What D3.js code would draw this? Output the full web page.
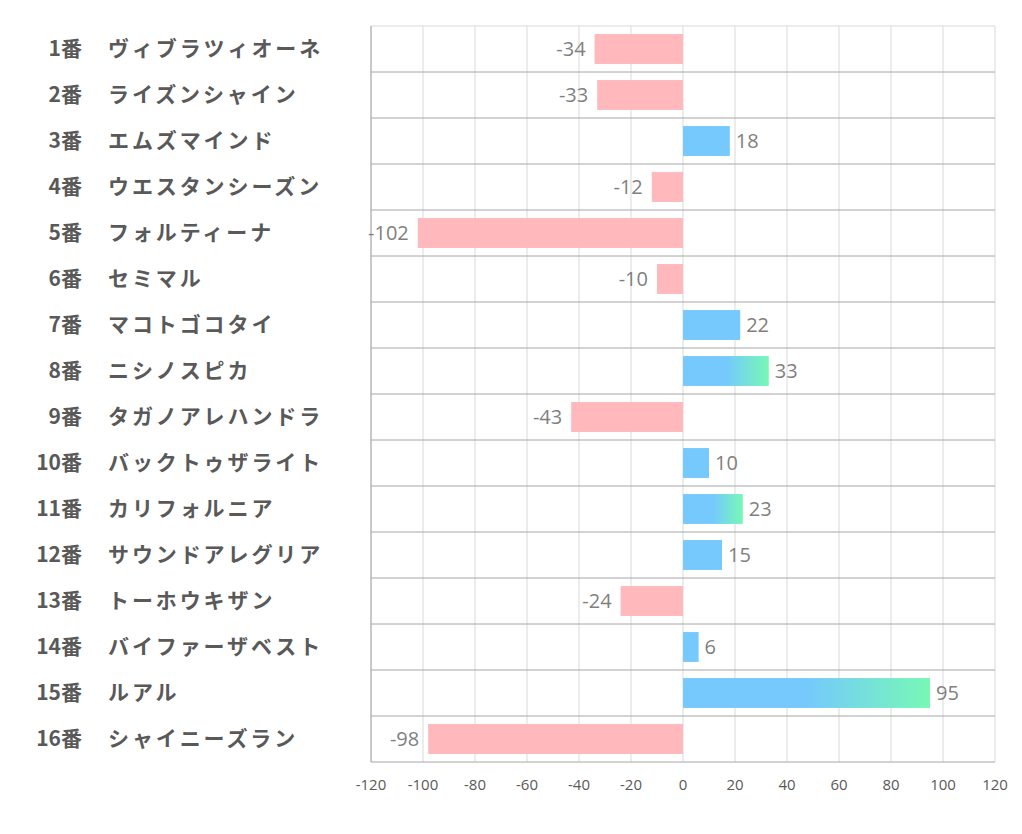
<!DOCTYPE html>
<html>
<head>
<meta charset="utf-8">
<script src="https://cdn.jsdelivr.net/npm/d3@7"></script>
<style>
  body { margin: 0; background: #fff; }
  svg { display: block; }
</style>
</head>
<body>
<svg id="chart" width="1022" height="834"></svg>
<script>
const numbers = ['1番', '2番', '3番', '4番', '5番', '6番', '7番', '8番',
  '9番', '10番', '11番', '12番', '13番', '14番', '15番', '16番'];
const horses = ['ヴィブラツィオーネ', 'ライズンシャイン', 'エムズマインド', 'ウエスタンシーズン',
  'フォルティーナ', 'セミマル', 'マコトゴコタイ', 'ニシノスピカ', 'タガノアレハンドラ',
  'バックトゥザライト', 'カリフォルニア', 'サウンドアレグリア', 'トーホウキザン',
  'バイファーザベスト', 'ルアル', 'シャイニーズラン'];
const scores = [-34, -33, 18, -12, -102, -10, 22, 33, -43, 10, 23, 15, -24, 6, 95, -98];
// bars drawn with the blue-green gradient
const highlighted = ['8番', '11番', '15番'];
const xTicks = [-120, -100, -80, -60, -40, -20, 0, 20, 40, 60, 80, 100, 120];

const svg = d3.select('#chart');
const plotLeft = 371, plotRight = 995, plotTop = 26, plotBottom = 762;

const x = d3.scaleLinear().domain([-120, 120]).range([plotLeft, plotRight]);
const y = d3.scaleBand().domain(numbers).range([plotTop, plotBottom]).paddingInner(0.35).paddingOuter(0.175);
const rowH = (plotBottom - plotTop) / numbers.length;

const defs = svg.append('defs');
const grad = defs.append('linearGradient').attr('id', 'posGrad')
  .attr('x1', '0%').attr('x2', '100%').attr('y1', '0%').attr('y2', '0%');
grad.append('stop').attr('offset', '50%').attr('stop-color', '#75c9fd');
grad.append('stop').attr('offset', '100%').attr('stop-color', '#77f8b5');

// vertical gridlines
svg.append('g').selectAll('line').data(xTicks).enter().append('line')
  .attr('x1', (d) => x(d)).attr('x2', (d) => x(d))
  .attr('y1', plotTop).attr('y2', plotBottom)
  .attr('stroke', '#d9d9d9').attr('stroke-width', 1);

// horizontal row lines
svg.append('g').selectAll('line').data(d3.range(numbers.length + 1)).enter().append('line')
  .attr('x1', plotLeft).attr('x2', plotRight)
  .attr('y1', (i) => plotTop + i * rowH).attr('y2', (i) => plotTop + i * rowH)
  .attr('stroke', (i) => (i === 0 ? '#d9d9d9' : '#a6a6a6')).attr('stroke-width', 1);

svg.append('line').attr('x1', plotLeft).attr('x2', plotLeft).attr('y1', plotTop).attr('y2', plotBottom)
  .attr('stroke', '#a6a6a6');

// bars
svg.append('g').selectAll('rect').data(scores).enter().append('rect')
  .attr('x', (d) => x(Math.min(0, d)))
  .attr('width', (d) => Math.abs(x(d) - x(0)))
  .attr('y', (d, i) => y(numbers[i]))
  .attr('height', y.bandwidth())
  .attr('fill', (d, i) => {
    if (d < 0) return '#ffb9bc';
    return highlighted.includes(numbers[i]) ? 'url(#posGrad)' : '#75c9fd';
  });

// value labels
svg.append('g').selectAll('text').data(scores).enter().append('text')
  .attr('x', (d) => (d < 0 ? x(d) - 9 : x(d) + 6))
  .attr('y', (d, i) => y(numbers[i]) + y.bandwidth() / 2)
  .attr('dy', '0.36em')
  .attr('text-anchor', (d) => (d < 0 ? 'end' : 'start'))
  .attr('font-family', '"Open Sans", "Noto Sans", sans-serif')
  .attr('font-size', 20)
  .attr('fill', '#7f7f7f')
  .text((d) => d);

// category labels
const lab = svg.append('g').attr('font-family', '"Noto Sans CJK JP", sans-serif')
  .attr('font-weight', 'bold').attr('font-size', 21).attr('fill', '#595959');
lab.selectAll('text.num').data(numbers).enter().append('text')
  .attr('class', 'num')
  .attr('x', 82).attr('y', (d) => y(d) + y.bandwidth() / 2).attr('dy', '0.35em')
  .attr('text-anchor', 'end').text((d) => d);
lab.selectAll('text.name').data(horses).enter().append('text')
  .attr('class', 'name')
  .attr('x', 108).attr('y', (d, i) => y(numbers[i]) + y.bandwidth() / 2).attr('dy', '0.35em')
  .attr('letter-spacing', 2.9)
  .text((d) => d);

// x axis tick labels
svg.append('g').selectAll('text').data(xTicks).enter().append('text')
  .attr('x', (d) => x(d)).attr('y', 790)
  .attr('text-anchor', 'middle')
  .attr('font-family', '"Open Sans", "Noto Sans", sans-serif')
  .attr('font-size', 15).attr('fill', '#595959')
  .text((d) => d);
</script>
</body>
</html>
